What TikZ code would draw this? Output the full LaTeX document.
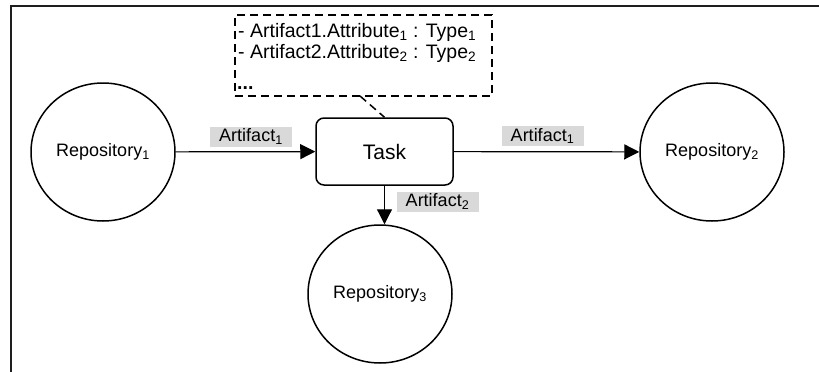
\documentclass[tikz,border=0pt]{standalone}
\usepackage{fontspec}
\setmainfont{Liberation Sans}
\usetikzlibrary{arrows.meta,shapes.geometric}
\definecolor{labelgray}{RGB}{217,217,217}
\definecolor{framegray}{RGB}{30,30,30}
\begin{document}
\begin{tikzpicture}[x=1pt,y=-1pt,
  every node/.style={font=\fontsize{18}{20}\selectfont, inner sep=0pt},
  repo/.style={ellipse, draw, line width=1.5pt, minimum width=144pt, minimum height=138pt},
  taskbox/.style={draw, line width=1.5pt, rounded corners=8pt, minimum width=137pt, minimum height=67pt, font=\fontsize{21}{24}\selectfont},
  lbl/.style={fill=labelgray, minimum width=82pt, minimum height=20pt},
  flow/.style={line width=1.2pt, -{Triangle[length=15pt,width=15pt]}},
  notebox/.style={draw, dash pattern=on 8pt off 5pt, line width=1.8pt, minimum width=257pt, minimum height=81pt},
  notetext/.style={anchor=base west, font=\fontsize{19.5}{22}\selectfont}
]
\useasboundingbox (0,0) rectangle (819,372);
\draw[framegray, line width=2pt] (11,372) -- (11,6) -- (819,6);

\node[repo] (r1) at (103,152) {Repository\textsubscript{1}};
\node[repo] (r2) at (712,152) {Repository\textsubscript{2}};
\node[repo] (r3) at (380,294) {Repository\textsubscript{3}};
\node[taskbox] (task) at (384.5,151.5) {Task};

\node[notebox] (note) at (363.5,55.5) {};
\node[notetext] (n1) at (238,37) {- Artifact1.Attribute\textsubscript{1} : Type\textsubscript{1}};
\node[notetext] (n2) at (238,58) {- Artifact2.Attribute\textsubscript{2} : Type\textsubscript{2}};
\node[notetext] (n3) at (237,89) {\textbf{...}};
\coordinate (nb) at (360,96);
\draw[dash pattern=on 8pt off 5pt, line width=1.5pt] (nb) -- (task.north);

\draw[flow] (r1) -- (task);
\draw[flow] (task) -- (r2);
\draw[flow] (task.south) -- (task.south |- r3.north);

\node[lbl] (l1) at (251,136.5) {Artifact\textsubscript{1}};
\node[lbl] (l2) at (542.5,136) {Artifact\textsubscript{1}};
\node[lbl] (l3) at (437.5,201.5) {Artifact\textsubscript{2}};
\end{tikzpicture}
\end{document}
